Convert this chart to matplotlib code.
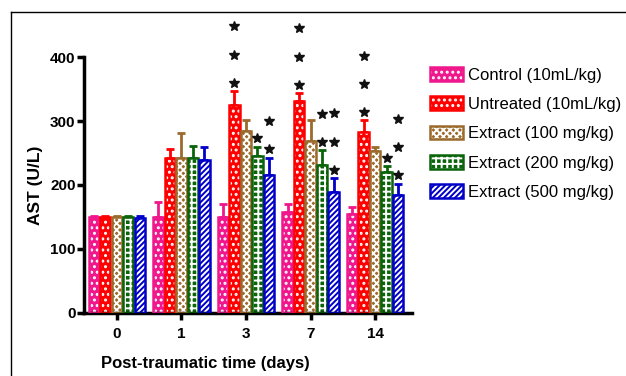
import numpy as np
import matplotlib
matplotlib.use('Agg')
import matplotlib.pyplot as plt
from matplotlib.lines import Line2D
from matplotlib.patches import Patch

plt.rcParams['font.family'] = ['Liberation Sans', 'DejaVu Sans']
plt.rcParams['hatch.linewidth'] = 1.4

days = ['0', '1', '3', '7', '14']
labels = ['Control (10mL/kg)', 'Untreated (10mL/kg)', 'Extract (100 mg/kg)',
          'Extract (200 mg/kg)', 'Extract (500 mg/kg)']
colors = ['#f0168c', '#ff0000', '#9b6a2c', '#0a640a', '#0000c8']
hatches = ['...', '...', 'xxxxx', '+++', '//////']

# AST values (U/L) and upper SEM per day
control = [150, 150, 150, 157, 155]
control_err = [2, 24, 21, 13, 10]
untreated = [150, 242, 325, 332, 283]
untreated_err = [2, 15, 22, 12, 18]
ext100 = [150, 242, 284, 269, 253]
ext100_err = [2, 39, 17, 32, 7]
ext200 = [150, 242, 246, 232, 221]
ext200_err = [2, 19, 14, 22, 8]
ext500 = [149, 239, 216, 189, 184]
ext500_err = [2, 21, 27, 22, 18]

values = [control, untreated, ext100, ext200, ext500]
errors = [control_err, untreated_err, ext100_err, ext200_err, ext500_err]

# number of significance stars above each bar
stars = [
    [0, 0, 0, 0, 0],
    [0, 0, 3, 3, 3],
    [0, 0, 0, 0, 0],
    [0, 0, 1, 2, 1],
    [0, 0, 2, 3, 3],
]

fig = plt.figure(figsize=(6.26, 3.76), dpi=100)
ax = fig.add_axes([0.134, 0.168, 0.524, 0.68])

x = np.arange(len(days))
step = 0.178
width = 0.16
for i in range(5):
    pos = x + (i - 2) * step
    ax.bar(pos, values[i], width, color=colors[i], edgecolor='white',
           hatch=hatches[i], linewidth=0, zorder=2)
    ax.bar(pos, values[i], width, fill=False, edgecolor=colors[i],
           linewidth=1.8, zorder=3)
    ax.errorbar(pos, values[i], yerr=[np.zeros(5), errors[i]], fmt='none',
                ecolor=colors[i], elinewidth=2, capsize=3, capthick=2, zorder=1)
    for j in range(5):
        top = values[i][j] + errors[i][j]
        for k in range(stars[i][j]):
            ax.plot(pos[j], top + 13 + 44 * k, marker='*', color='#111111',
                    markersize=7, clip_on=False, zorder=4)

ax.set_xlim(-0.51, 4.57)
ax.set_ylim(0, 400)
ax.set_xticks(x)
ax.set_xticklabels(days)
ax.set_yticks([0, 100, 200, 300, 400])
for s in ['top', 'right']:
    ax.spines[s].set_visible(False)
for s in ['left', 'bottom']:
    ax.spines[s].set_linewidth(2.5)
ax.tick_params(width=2.5, length=5, labelsize=11)
ax.tick_params(axis='x', pad=5)
ax.tick_params(axis='y', pad=1)
for t in ax.get_xticklabels() + ax.get_yticklabels():
    t.set_fontweight('bold')

ax.set_ylabel('AST (U/L)', fontsize=12.5, fontweight='bold')
ax.yaxis.set_label_coords(-0.125, 0.5)
ax.set_xlabel('Post-traumatic time (days)', fontsize=12, fontweight='bold')
ax.xaxis.set_label_coords(0.369, -0.17)

handles = [(Patch(facecolor=c, edgecolor='white', hatch=h, linewidth=0),
            Patch(fill=False, edgecolor=c, linewidth=1.8))
           for c, h in zip(colors, hatches)]
fig.legend(handles, labels, loc='upper left', bbox_to_anchor=(0.663, 0.862),
           frameon=False, fontsize=12, handlelength=2.0, handleheight=0.9,
           handletextpad=0.3, labelspacing=0.82)

fig.add_artist(Line2D([0.0176, 0.0176], [0, 0.968], transform=fig.transFigure,
                      color='black', lw=1))
fig.add_artist(Line2D([0.0176, 1], [0.968, 0.968], transform=fig.transFigure,
                      color='black', lw=1))

fig.savefig('out.png', dpi=100)
